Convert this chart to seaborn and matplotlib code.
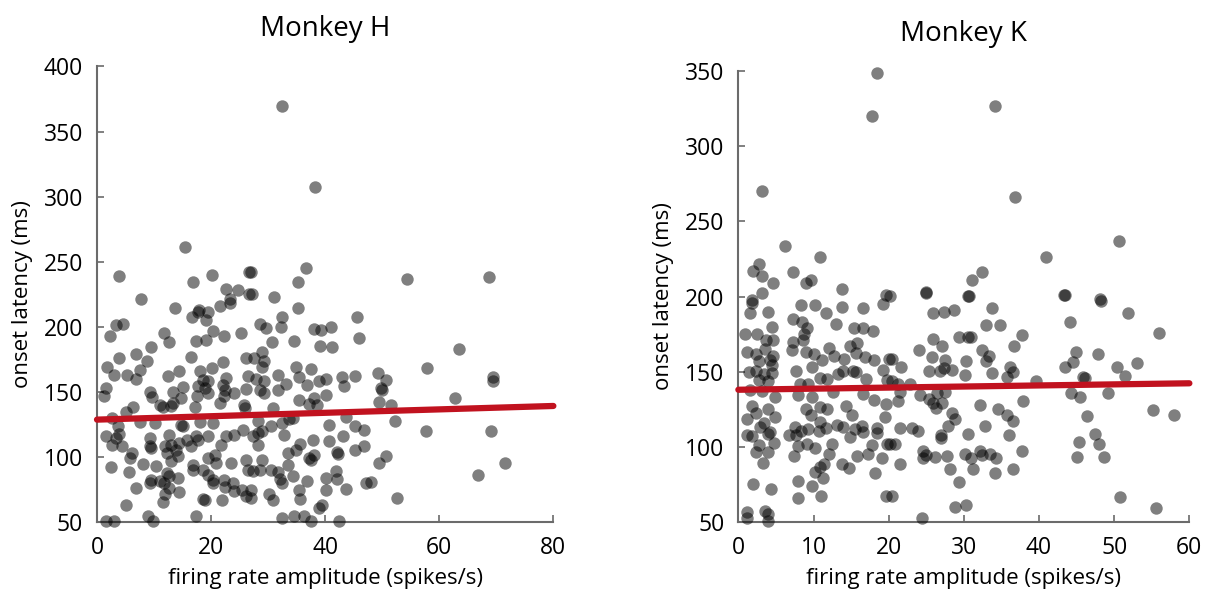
import matplotlib
matplotlib.use("Agg")
import matplotlib.pyplot as plt
import seaborn as sns
import pandas as pd

# ---------------- Monkey H data ----------------
h_x = [32.4, 38.2, 36.7, 35.3, 27.0, 54.4, 27.2, 31.1, 15.5, 3.9, 16.8, 20.2, 22.6, 24.8, 26.6, 26.7, 7.7, 23.4,
       63.4, 57.9, 69.5, 69.5, 62.8, 57.7, 69.0, 71.6, 66.8, 68.7,
       13.6, 17.9, 17.7, 19.4, 21.6, 23.3, 16.6, 19.1, 3.4, 4.6, 2.2, 11.7, 12.7, 20.3, 22.3, 25.3, 17.4, 19.1,
       9.5, 6.8, 3.9, 8.8, 16.5, 22.1, 26.1, 1.8, 2.9, 5.3, 7.5, 6.8, 12.5, 14.4, 18.0, 20.2, 18.6, 19.4, 22.6, 26.4,
       1.6, 1.2, 9.3, 9.7, 15.0, 13.3, 14.8, 17.7, 18.9, 17.5, 19.4, 22.1, 22.5, 22.3, 24.1, 26.2,
       11.0, 11.5, 13.3, 13.0, 21.5, 17.1, 25.7, 5.1, 6.3, 26.0, 2.6, 3.7, 7.5, 10.1, 14.8, 15.1, 18.0, 20.3,
       3.9, 3.3, 1.6, 2.7, 4.3, 9.3, 12.7, 13.0, 15.7, 17.4, 19.4, 21.8, 22.6, 24.1, 25.6,
       6.1, 5.8, 9.3, 9.5, 11.9, 12.2, 13.8, 14.4, 16.5, 17.7, 8.1, 10.3, 13.0, 14.2, 16.8, 16.9, 19.4, 20.6,
       20.9, 23.5, 26.1, 26.4, 2.4, 5.6, 12.2, 12.6, 14.2, 18.6, 19.4, 20.3, 20.4, 22.3, 9.4, 11.1, 11.7, 12.7,
       9.3, 6.9, 22.5, 24.1, 23.8, 25.5, 26.1, 12.0, 14.4, 18.6, 18.9, 21.9, 5.1, 11.6, 9.0, 17.3, 9.8, 1.6, 3.0,
       35.3, 32.5, 28.5, 29.6, 32.2, 38.1, 39.2, 41.0, 45.6, 46.0, 30.7, 34.6, 39.1, 41.2, 28.9, 27.6, 29.3, 29.0,
       31.7, 27.9, 29.3, 34.9, 37.5, 33.2, 35.4, 36.9, 38.9, 40.2, 42.9, 43.3, 45.3, 49.3, 50.7, 49.7, 50.0,
       28.5, 31.7, 29.3, 35.4, 40.2, 38.1, 37.2, 38.6, 49.5, 51.6, 30.8, 33.6, 34.3, 28.2, 32.5, 30.5, 40.6, 43.6,
       52.2, 45.3, 46.8, 32.8, 28.2, 29.0, 27.3, 37.9, 40.7, 43.1, 35.6, 28.3, 46.8, 45.2, 50.7, 49.5, 33.4, 34.9,
       38.1, 42.1, 42.3, 29.0, 37.1, 37.5, 33.4, 34.3, 28.5, 27.3, 30.5, 31.8, 32.5, 32.1, 41.9, 40.2, 42.0, 36.9,
       43.6, 40.2, 47.2, 48.1, 52.6, 35.4, 35.6, 38.9, 39.5, 32.5, 34.6, 36.3, 37.5, 42.4, 30.2, 30.8, 27.0, 27.0]
h_y = [369.5, 307, 245, 234, 242, 237, 225, 223, 261, 239, 234, 240, 229, 228, 242, 225, 221, 221,
       183, 168, 161, 158, 145, 120, 120, 95, 86, 238,
       214.4, 212.6, 211, 211, 216, 218, 207.4, 205, 201.5, 202.3, 193, 195, 188, 196.4, 192.6, 195, 188.7, 189.5,
       184.4, 179, 176, 173.3, 177, 173, 176, 169, 163, 163, 167, 159.7, 162, 165.6, 165.6, 168, 159, 158, 160.5, 162,
       152.8, 146.4, 150, 146, 153.6, 150, 145, 154, 152.8, 147, 149, 155.4, 151.5, 147, 149, 152,
       140, 138, 141, 138.7, 141, 138, 140, 134, 138, 137.4, 129.7, 123.3, 127, 126, 124.6, 123.8, 126.4, 126,
       117.7, 114.4, 116, 109, 108, 114.4, 117, 109, 113, 115.6, 115.6, 109, 115.6, 117, 120.8,
       103, 99, 108, 106.7, 108, 102.8, 104.9, 110.5, 108, 112.6, 94.6, 93, 96.4, 100.3, 93.8, 90, 99, 101.5,
       95, 95, 97.7, 90, 92, 88, 87.4, 84.9, 83.6, 90, 86, 82.3, 79.7, 82.3, 82.3, 81, 79.7, 76,
       79.7, 76, 77, 73.3, 79.7, 74.6, 69.5, 71.5, 72.6, 67.4, 66.4, 66.4, 63, 65, 54.6, 54.6, 50.3, 50.3, 50.3,
       214.4, 207.4, 202.3, 199, 199.5, 198.2, 197.7, 199.7, 207.4, 191.3, 188, 188.7, 185.4, 184.4, 180.2, 176, 173.3, 169,
       163, 159.7, 158, 169, 167.4, 156, 161.3, 155.4, 158, 159.7, 161.3, 154.6, 161.8, 164.4, 159.2, 152.8, 151.5,
       151.5, 151.5, 149, 143.8, 147.7, 145, 140.8, 140, 141.8, 140, 137.4, 129, 129.7, 127.2, 125.9, 123.8, 124.6, 130.5,
       127.2, 123.8, 120.3, 117, 118.2, 119.5, 115.6, 113, 111.8, 115.6, 110, 109.2, 108, 104.9, 100.3, 95.1, 102.8, 105.4,
       101.5, 103.3, 102.3, 97.7, 99, 97.2, 93.8, 85.4, 90, 88.7, 90, 88, 79.7, 82.8, 88.7, 83.6, 82.8, 81,
       75.1, 74.1, 79.7, 80.3, 68.2, 74.1, 67.4, 60.5, 63, 52.8, 54.1, 54.1, 50.3, 50.3, 71.5, 66.9, 74.6, 68.2]
h_fit_x = [0, 80]
h_fit_y = [128.5, 139.0]

# ---------------- Monkey K data ----------------
k_x = [18.4, 17.8, 3.1, 6.2, 10.8, 2.8, 1.9, 3.2, 7.3, 4.6, 9.0, 9.7, 13.8, 3.1, 1.8, 19.7,
       34.1, 36.8, 40.9, 32.4, 31.1, 24.9, 30.6, 20.2, 50.7, 43.3, 48.1,
       1.8, 1.5, 4.0, 4.5, 0.9, 2.5, 3.7, 4.6, 1.2, 2.3, 3.6, 4.6, 2.7, 4.2, 4.5, 1.4, 2.3, 3.4, 4.5, 2.7, 4.0,
       1.6, 3.1, 4.9, 1.8, 2.4, 4.0, 1.1, 3.4, 4.9, 2.9, 4.2, 1.1, 1.8, 4.0, 4.7, 2.7, 2.3, 3.9, 3.3, 1.9, 4.3,
       1.1, 1.2, 3.6, 4.0, 4.0,
       8.3, 10.2, 11.7, 13.8, 16.6, 19.2, 7.3, 8.5, 9.1, 8.7, 13.0, 15.4, 16.6, 17.9, 7.3, 8.6, 7.1, 9.0, 10.0,
       11.1, 12.1, 12.7, 14.0, 14.8, 15.8, 15.7, 16.9, 18.0, 20.0, 7.7, 9.8, 10.9, 11.8, 13.3, 13.9, 15.2, 15.7,
       17.0, 19.3, 19.8, 8.2, 9.2, 8.0, 9.8, 12.6, 16.6, 18.1, 19.7, 9.0, 9.6, 10.8, 11.8, 14.3, 15.1, 19.5,
       7.6, 6.8, 7.7, 8.3, 9.2, 10.8, 10.7, 11.7, 13.1, 13.9, 14.9, 15.5, 16.4, 16.6, 18.4, 18.4, 19.8,
       8.0, 9.1, 10.2, 12.4, 7.4, 12.1, 15.8, 17.2, 17.8, 19.1, 11.4, 10.8, 10.2, 11.3, 13.8, 14.7, 18.2,
       8.0, 9.8, 7.9, 11.0, 19.7,
       25.0, 30.7, 25.9, 27.3, 28.7, 33.8, 32.9, 34.8, 29.4, 30.5, 30.9, 37.7, 25.9, 27.1, 36.7, 24.0, 25.7,
       32.4, 33.4, 20.4, 21.7, 27.5, 30.3, 32.9, 25.3, 26.8, 27.3, 28.4, 30.2, 33.8, 36.2, 36.5, 35.7, 39.6,
       20.4, 21.2, 22.9, 21.5, 24.1, 21.2, 25.4, 26.4, 27.5, 25.9, 27.1, 26.3, 32.1, 37.9, 34.6, 35.7, 28.4,
       28.8, 36.5, 27.9, 32.8, 21.5, 23.1, 23.9, 26.9, 27.0, 30.6, 36.0, 20.2, 20.9, 24.6, 25.0, 24.6, 26.2,
       27.7, 30.2, 31.0, 32.1, 32.4, 33.5, 34.3, 37.7, 21.5, 28.1, 31.2, 34.1, 36.5, 29.3, 20.4, 28.8, 30.3, 24.4,
       43.4, 48.2, 51.8, 44.1, 56.0, 44.9, 47.8, 44.5, 43.4, 50.4, 53.0, 51.4, 45.9, 46.1, 44.2, 45.4, 49.2,
       55.2, 57.9, 46.4, 47.4, 45.3, 48.0, 45.1, 48.7, 50.8, 55.5]
k_y = [349, 320, 270.3, 233.4, 226.3, 221.6, 217.3, 213.7, 216.2, 209.3, 209.3, 211, 205.2, 202.1, 197.6, 201,
       327, 266.5, 226.3, 216.2, 211, 202.8, 200.3, 200.3, 237.2, 201, 198.1,
       195.9, 189.1, 189.8, 179.7, 175.3, 174.8, 171.2, 171.2, 163, 161.9, 165.2, 160.7, 156.9, 157.4, 154.7,
       149.5, 150.7, 148.4, 148.9, 144.4, 143.5, 137.7, 137.2, 133.2, 127.2, 122.7, 124.9, 118.2, 116, 119.8,
       113.1, 110, 107.7, 107, 108.6, 102.6, 101, 96.5, 96.5, 89.1, 75.1, 71.9, 56.3, 52.7, 57.2, 54.9, 50.5,
       194.3, 194.3, 189.1, 193.2, 192.1, 195, 184.7, 183.1, 179.3, 175.3, 181.5, 179.3, 179.3, 177.1, 169.7,
       171.2, 164.5, 163, 161.9, 157.8, 165.9, 160.1, 158.5, 166.8, 169, 162.3, 159.6, 157.4, 158.5, 150.2,
       152.9, 145.7, 145.1, 148.4, 150.2, 150.2, 149.5, 145.1, 151.1, 144.4, 141.7, 141.7, 134.6, 133.2, 136.1,
       135, 131, 128.3, 124.9, 121.1, 126.1, 124.9, 127.2, 121.1, 119.8,
       113.1, 107.7, 107.7, 110.4, 111.5, 116.7, 110.4, 112.2, 114.4, 113.1, 106.4, 111.5, 113.8, 110, 112.2,
       109.3, 101.5, 100.3, 101.5, 99.2, 101.9, 93.6, 95.2, 93.6, 95.2, 101, 92.5, 88.5, 86.2, 83.1, 79.1,
       88.5, 85.8, 82.4, 76.8, 73.5, 66.1, 67.4, 67.4,
       202.6, 200.3, 189.1, 189.8, 190.9, 192.1, 180.9, 180.9, 173, 173, 173, 174.2, 171.9, 166.8, 166.8,
       164.5, 159.6, 164.5, 160.7, 158.5, 153.3, 157.4, 156.9, 156.9, 150.7, 150.2, 152.5, 151.1, 148, 148.9,
       152.9, 149.5, 146.6, 144, 143.5, 141.7, 141.7, 136.1, 134.6, 130.5, 131.7, 135.5, 136.1, 129.4, 129.4,
       125.6, 127.8, 130.5, 124.9, 121.1, 122.7, 118.2, 117.1, 113.8, 113.8, 112.2, 112.6, 110.4, 107.7, 105.5,
       108.6, 107.7, 101.9, 101.9, 97.4, 94.7, 92.5, 92.9, 93.6, 95.2, 92.5, 97.4, 94.3, 95.2, 92.5, 97.4,
       88.5, 85.3, 85.3, 82.4, 85.3, 76.4, 67.4, 60.1, 61.2, 52.7,
       201, 197.2, 189.1, 183.1, 175.7, 163, 161.9, 156.3, 152.9, 152.9, 155.6, 147.3, 146.6, 145.7, 135.5,
       132.8, 135.5, 124.3, 121.1, 120.5, 108.2, 103.2, 101.9, 93.2, 93.2, 66.8, 58.9]
k_fit_x = [0, 60]
k_fit_y = [137.9, 142.2]

titles = ["Monkey H", "Monkey K"]
xlabel = "firing rate amplitude (spikes/s)"
ylabel = "onset latency (ms)"
h_xticks = [0, 20, 40, 60, 80]
h_yticks = [50, 100, 150, 200, 250, 300, 350, 400]
k_xticks = [0, 10, 20, 30, 40, 50, 60]
k_yticks = [50, 100, 150, 200, 250, 300, 350]

sns.set_theme(style="ticks")
plt.rcParams["font.family"] = ["Open Sans", "DejaVu Sans"]
plt.rcParams["text.color"] = "black"
plt.rcParams["axes.labelcolor"] = "black"

fig = plt.figure(figsize=(12.17, 5.99), dpi=100)
ax1 = fig.add_axes([0.0797, 0.129, 0.3750, 0.760])
ax2 = fig.add_axes([0.6067, 0.129, 0.3706, 0.752])

panels = [
    (ax1, h_x, h_y, h_fit_x, h_fit_y, h_xticks, h_yticks, titles[0]),
    (ax2, k_x, k_y, k_fit_x, k_fit_y, k_xticks, k_yticks, titles[1]),
]
spine_col = "#6b6b6b"
for ax, xs, ys, fx, fy, xt, yt, title in panels:
    df = pd.DataFrame({"x": xs, "y": ys})
    sns.scatterplot(data=df, x="x", y="y", ax=ax, color="black", alpha=0.5,
                    s=80, linewidth=0, clip_on=False, zorder=3)
    fit = pd.DataFrame({"x": fx, "y": fy})
    sns.lineplot(data=fit, x="x", y="y", ax=ax, color="#c1121f", linewidth=4.5,
                 solid_capstyle="round", zorder=4, clip_on=False)
    ax.set_xlim(xt[0], xt[-1])
    ax.set_ylim(yt[0], yt[-1])
    ax.set_xticks(xt)
    ax.set_yticks(yt)
    ax.tick_params(direction="in", length=5, width=1.2, color=spine_col,
                   labelsize=16.5, labelcolor="black", pad=10)
    for side in ["top", "right"]:
        ax.spines[side].set_visible(False)
    for side in ["left", "bottom"]:
        ax.spines[side].set_color(spine_col)
        ax.spines[side].set_linewidth(1.5)
    ax.set_xlabel(xlabel, fontsize=16, labelpad=6, color="black")
    ax.set_ylabel(ylabel, fontsize=16, labelpad=8, color="black")
    ax.set_title(title, fontsize=20, pad=22, color="black")

fig.savefig("out.png", dpi=100, facecolor="white")
